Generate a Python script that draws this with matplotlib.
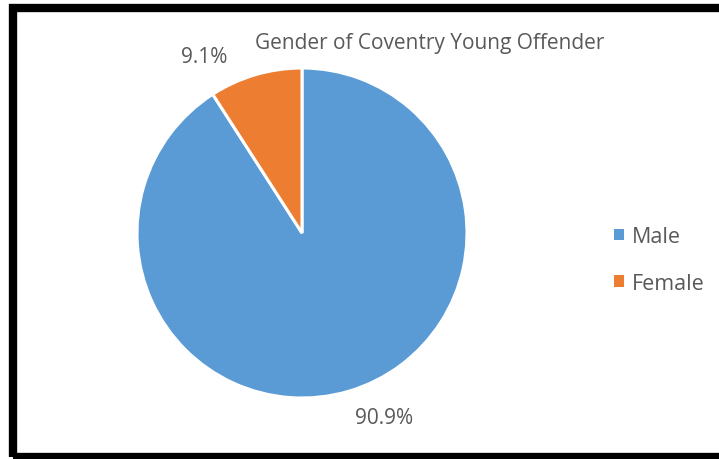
import matplotlib
matplotlib.use("Agg")
import matplotlib.pyplot as plt
from matplotlib.patches import Rectangle

plt.rcParams["font.family"] = ["Open Sans", "DejaVu Sans"]

LABELS = ["Male", "Female"]
SHARES = [90.9, 9.1]
COLORS = ["#5B9BD5", "#ED7D31"]
TITLE = "Gender of Coventry Young Offender"
TXT = "#595959"

W, H = 719, 460
fig = plt.figure(figsize=(W / 100, H / 100), dpi=100)

# pie: centre ~(302, 234) px, radius ~165 px
cx, cy, r = 302, 234, 165
ax = fig.add_axes([(cx - r) / W, (H - cy - r) / H, 2 * r / W, 2 * r / H])
wedges, _, pcts = ax.pie(SHARES, colors=COLORS, startangle=90, counterclock=False,
                         autopct="%.1f%%", pctdistance=1.2,
                         wedgeprops=dict(edgecolor="white", linewidth=2.2),
                         textprops=dict(color=TXT, fontsize=15))
ax.set_xlim(-1, 1)
ax.set_ylim(-1, 1)
ax.set_aspect("equal")
# nudge labels to where the original chart put them
pcts[0].set_position((0.50, -1.12))
pcts[1].set_position((-0.59, 1.07))

fig.text(430 / W, 1 - 44 / H, TITLE, ha="center", va="center", fontsize=15, color=TXT)

leg = fig.legend(wedges, LABELS, loc="center left", bbox_to_anchor=(595 / W, 1 - 261 / H),
                 frameon=False, fontsize=15.5, handlelength=0.45, handleheight=0.45,
                 handletextpad=0.35, labelspacing=1.2, labelcolor=TXT)
for h in leg.legend_handles:
    h.set_edgecolor("none")

# thick black frame around the chart (runs off the right edge)
fig.patches.append(Rectangle((13 / W, 1 - 458 / H), (W + 10) / W, 449 / H,
                             transform=fig.transFigure, fill=False,
                             edgecolor="black", linewidth=6))

fig.savefig("out.png", dpi=100)
